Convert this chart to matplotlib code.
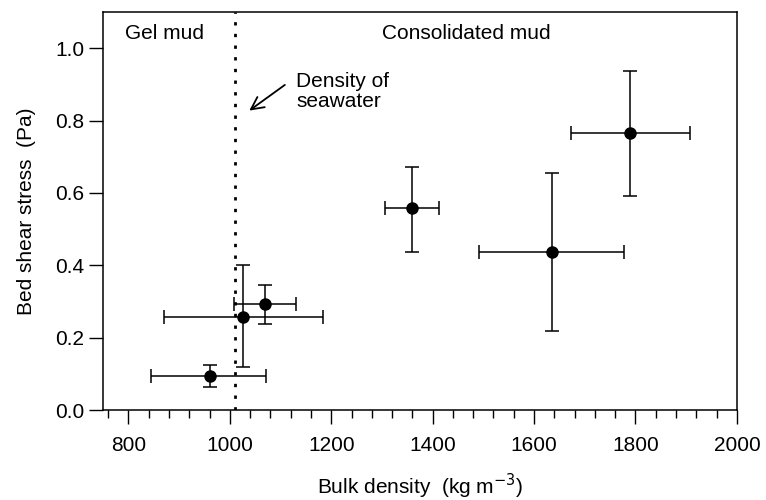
import numpy as np
import matplotlib
matplotlib.use('Agg')
import matplotlib.pyplot as plt
from matplotlib.ticker import MultipleLocator

plt.rcParams.update({
    'font.family': ['Liberation Sans', 'DejaVu Sans'],
    'font.size': 15,
})

# Data
density = [960, 1027, 1070, 1360, 1635, 1790]          # kg m-3
dens_lo = [845, 871, 1008, 1306, 1491, 1673]
dens_hi = [1072, 1183, 1131, 1412, 1777, 1907]
stress = [0.095, 0.258, 0.292, 0.557, 0.437, 0.766]    # Pa
stress_lo = [0.064, 0.120, 0.238, 0.437, 0.218, 0.591]
stress_hi = [0.124, 0.400, 0.345, 0.672, 0.654, 0.937]
seawater = 1010

x = np.array(density)
y = np.array(stress)
xerr = [x - np.array(dens_lo), np.array(dens_hi) - x]
yerr = [y - np.array(stress_lo), np.array(stress_hi) - y]

fig = plt.figure(figsize=(7.66, 5), dpi=100)
ax = fig.add_axes([0.1345, 0.18, 0.8275, 0.796])

ax.errorbar(x, y, xerr=xerr, yerr=yerr, fmt='o', color='black',
            markersize=8, elinewidth=1.1, capsize=5, capthick=1.1)

ax.axvline(seawater, color='black', linestyle=(0, (1.2, 3)), linewidth=2)

ax.text(0.035, 0.945, 'Gel mud', transform=ax.transAxes, va='center')
ax.text(0.44, 0.945, 'Consolidated mud', transform=ax.transAxes, va='center')
ax.text(0.305, 0.80, 'Density of\nseawater', transform=ax.transAxes,
        va='center', linespacing=1.05)
ax.annotate('', xy=(1034, 0.823), xytext=(1113, 0.903),
            arrowprops=dict(arrowstyle='->,head_length=0.6,head_width=0.3',
                            color='black', lw=1.3))

ax.set_xlim(750, 2000)
ax.set_ylim(0, 1.1)
ax.xaxis.set_major_locator(MultipleLocator(200))
ax.xaxis.set_minor_locator(MultipleLocator(40))
ax.yaxis.set_major_locator(MultipleLocator(0.2))
ax.yaxis.set_major_formatter(plt.FormatStrFormatter('%.1f'))
ax.tick_params(axis='both', which='major', direction='out', length=10, width=1)
ax.tick_params(axis='x', which='minor', direction='out', length=6, width=1)
ax.tick_params(axis='x', pad=9)
for s in ax.spines.values():
    s.set_linewidth(1.1)

ax.set_xlabel('Bulk density  (kg m$^{-3}$)', labelpad=12)
ax.set_ylabel('Bed shear stress  (Pa)', labelpad=14)

fig.savefig('out.png', dpi=100)
